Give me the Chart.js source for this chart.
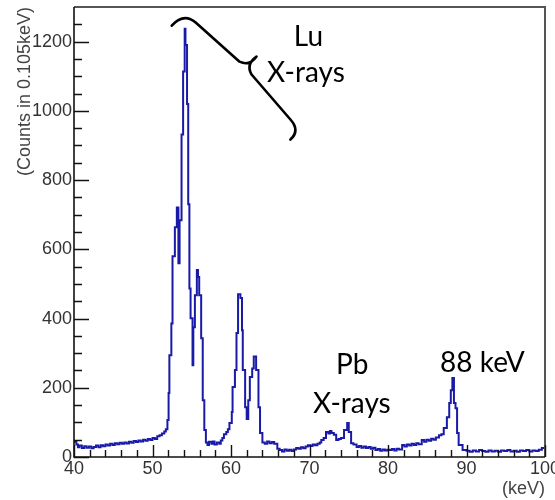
<!DOCTYPE html>
<html>
<head>
<meta charset="utf-8">
<script src="https://cdn.jsdelivr.net/npm/chart.js@4.4.1/dist/chart.umd.min.js"></script>
<style>
  html, body { margin: 0; padding: 0; background: #ffffff; }
  #wrap { width: 555px; height: 500px; }
</style>
</head>
<body>
<div id="wrap"><canvas id="c" width="555" height="500"></canvas></div>
<script>
// Bin left edges (keV) and counts per bin
const energies = [
  40.0, 40.3, 40.5, 40.7, 41.0, 41.3, 41.6, 41.9, 42.2, 42.5, 42.8, 43.1, 43.4, 43.7,
  44.0, 44.3, 44.6, 44.9, 45.2, 45.5, 45.8, 46.1, 46.4, 46.7, 47.0, 47.3, 47.6, 47.9,
  48.2, 48.5, 48.8, 49.1, 49.4, 49.7, 50.0, 50.3, 50.6, 50.9, 51.2, 51.5, 51.7, 51.9,
  52.05, 52.15, 52.4, 52.55, 52.85, 53.1, 53.3, 53.45, 53.7, 53.9, 54.1, 54.2, 54.4,
  54.55, 54.7, 54.85, 55.1, 55.2, 55.4, 55.65, 55.8, 55.95, 56.2, 56.4, 56.6, 56.8,
  57.0, 57.2, 57.5, 57.7, 57.9, 58.2, 58.5, 58.7, 58.9, 59.1, 59.4, 59.6, 59.8, 60.1,
  60.2, 60.5, 60.7, 60.9, 61.2, 61.4, 61.5, 61.8, 62.0, 62.2, 62.4, 62.7, 62.9, 63.2,
  63.5, 63.7, 64.0, 64.3, 64.6, 64.9, 65.2, 65.5, 65.9, 66.2, 66.5, 66.8, 67.1, 67.4,
  67.7, 68.0, 68.3, 68.6, 68.9, 69.2, 69.5, 69.8, 70.1, 70.4, 70.7, 71.0, 71.3, 71.5,
  71.8, 72.1, 72.4, 72.6, 72.8, 73.1, 73.4, 73.7, 74.0, 74.4, 74.8, 75.0, 75.3, 75.6,
  76.0, 76.3, 76.6, 76.9, 77.2, 77.5, 77.8, 78.1, 78.4, 78.7, 79.0, 79.3, 79.6, 79.9,
  80.2, 80.5, 80.8, 81.1, 81.4, 81.8, 82.1, 82.4, 82.7, 83.0, 83.3, 83.6, 83.9, 84.3,
  84.6, 84.9, 85.2, 85.5, 85.8, 86.1, 86.5, 86.8, 87.1, 87.5, 87.8, 88.0, 88.2, 88.4,
  88.6, 88.8, 89.0, 89.5, 90.0, 90.4, 90.8, 91.2, 91.6, 92.0, 92.4, 92.8, 93.2, 93.6,
  94.0, 94.4, 94.8, 95.2, 95.6, 96.0, 96.4, 96.8, 97.2, 97.6, 98.0, 98.4, 98.8, 99.2,
  99.6, 100.0
];
const counts = [
  44, 36, 28, 33, 26, 31, 27, 30, 25, 29, 33, 28, 34, 31,
  36, 33, 38, 35, 40, 37, 41, 38, 42, 39, 44, 41, 46, 43,
  48, 45, 50, 47, 52, 49, 55, 52, 60, 63, 68, 74, 80, 107,
  185, 294, 386, 580, 664, 721, 560, 684, 932, 1114, 1237, 1190, 1020,
  730, 487, 401, 265, 375, 467, 540, 520, 467, 343, 164, 78, 42,
  35, 44, 38, 45, 36, 42, 38, 48, 55, 66, 72, 80, 98, 130,
  202, 251, 358, 470, 459, 366, 251, 144, 110, 164, 231, 256, 290, 251,
  144, 69, 42, 38, 45, 40, 43, 38, 24, 20, 16, 22, 18, 21,
  17, 22, 26, 24, 28, 25, 30, 34, 32, 36, 34, 38, 42, 49,
  55, 72, 68, 75, 69, 64, 49, 52, 55, 78, 98, 72, 40, 36,
  29, 32, 27, 30, 26, 29, 24, 27, 20, 23, 18, 22, 19, 21,
  20, 23, 19, 24, 22, 35, 30, 36, 33, 38, 35, 40, 37, 49,
  44, 50, 47, 53, 50, 56, 63, 66, 84, 115, 156, 193, 228, 156,
  141, 69, 35, 20, 18, 15, 19, 16, 20, 17, 15, 19, 16, 18,
  15, 19, 17, 20, 16, 18, 15, 19, 17, 20, 16, 19, 17, 21,
  26, 26
];

// Axis ticks
const xMajorTicks = [40, 50, 60, 70, 80, 90, 100];
const xMinorStep = 2;
const yMajorTicks = [0, 200, 400, 600, 800, 1000, 1200];
const yMinorStep = 50;

// Axis titles
const yTitle = '(Counts in 0.105keV)';
const xTitle = '(keV)';

// Annotations (text at data coordinates: energy, counts at baseline)
const annoTexts = ['Lu', 'X-rays', 'Pb', 'X-rays', '88 keV'];
const annoE = [69.86, 69.54, 75.45, 75.39, 92.03];
const annoC = [1188, 1082, 239, 127, 245];

// Curly brace path in data coordinates
const bracePath = [
  ['M', 52.45, 1246],
  ['Q', 53.98, 1284, 55.50, 1255],
  ['L', 61.09, 1142],
  ['Q', 62.36, 1128, 63.25, 1157],
  ['Q', 61.86, 1134, 62.62, 1105],
  ['L', 67.57, 975],
  ['Q', 68.84, 943, 67.57, 917]
];

const points = energies.map((e, i) => ({ x: e, y: counts[i] }));

const axisFont = { family: '"Liberation Sans", Arial, Helvetica, sans-serif', size: 18 };
const axisColor = '#333333';

const rootPlugin = {
  id: 'rootStyle',
  afterDraw(chart) {
    const ctx = chart.ctx;
    const xs = chart.scales.x, ys = chart.scales.y;
    const a = chart.chartArea;
    ctx.save();
    // frame
    ctx.strokeStyle = '#555555';
    ctx.lineWidth = 2;
    ctx.beginPath();
    ctx.moveTo(a.left, a.top);
    ctx.lineTo(a.right, a.top);
    ctx.lineTo(a.right, a.bottom);
    ctx.stroke();
    ctx.strokeStyle = '#111111';
    ctx.lineWidth = 1.6;
    ctx.beginPath();
    ctx.moveTo(a.left, a.top);
    ctx.lineTo(a.left, a.bottom);
    ctx.lineTo(a.right, a.bottom);
    ctx.stroke();
    // ticks (inside)
    ctx.lineWidth = 1.4;
    ctx.beginPath();
    for (let v = 40; v <= 100 + 1e-9; v += xMinorStep) {
      const px = Math.round(xs.getPixelForValue(v)) + 0.5;
      const len = xMajorTicks.includes(Math.round(v)) ? 12 : 7;
      ctx.moveTo(px, a.bottom);
      ctx.lineTo(px, a.bottom - len);
    }
    for (let v = 0; v <= 1250 + 1e-9; v += yMinorStep) {
      const py = Math.round(ys.getPixelForValue(v)) + 0.5;
      const len = yMajorTicks.includes(v) ? 15 : 8;
      ctx.moveTo(a.left, py);
      ctx.lineTo(a.left + len, py);
    }
    ctx.stroke();
    // y title
    ctx.fillStyle = '#444444';
    ctx.font = '18px "Liberation Sans", Arial, sans-serif';
    ctx.save();
    ctx.translate(25, a.top);
    ctx.rotate(-Math.PI / 2);
    ctx.textAlign = 'right';
    ctx.textBaseline = 'middle';
    ctx.fillText(yTitle, 0, 0);
    ctx.restore();
    // x title
    ctx.textAlign = 'right';
    ctx.textBaseline = 'alphabetic';
    ctx.fillText(xTitle, a.right, 494);
    // annotations
    ctx.fillStyle = '#000000';
    ctx.font = '28px Lato, "Open Sans", sans-serif';
    ctx.textAlign = 'center';
    ctx.textBaseline = 'alphabetic';
    annoTexts.forEach((t, i) => {
      ctx.fillText(t, xs.getPixelForValue(annoE[i]), ys.getPixelForValue(annoC[i]));
    });
    // brace
    ctx.strokeStyle = '#000000';
    ctx.lineWidth = 2.6;
    ctx.lineCap = 'round';
    ctx.lineJoin = 'round';
    ctx.beginPath();
    const X = v => xs.getPixelForValue(v), Y = v => ys.getPixelForValue(v);
    bracePath.forEach(s => {
      if (s[0] === 'M') ctx.moveTo(X(s[1]), Y(s[2]));
      else if (s[0] === 'L') ctx.lineTo(X(s[1]), Y(s[2]));
      else ctx.quadraticCurveTo(X(s[1]), Y(s[2]), X(s[3]), Y(s[4]));
    });
    ctx.stroke();
    ctx.restore();
  }
};

new Chart(document.getElementById('c'), {
  type: 'line',
  data: {
    datasets: [{
      data: points,
      stepped: 'before',
      borderColor: '#1a1aa8',
      borderWidth: 2,
      pointRadius: 0,
      fill: false,
      tension: 0
    }]
  },
  options: {
    responsive: false,
    animation: false,
    devicePixelRatio: 1,
    layout: { padding: { left: 0, top: 7, right: 10, bottom: 0 } },
    plugins: { legend: { display: false }, tooltip: { enabled: false } },
    scales: {
      x: {
        type: 'linear',
        min: 40, max: 100,
        grid: { display: false, drawTicks: false },
        border: { display: false },
        ticks: { stepSize: 10, padding: 1, font: axisFont, color: axisColor, maxRotation: 0,
                 callback: v => String(v) },
        afterFit(s) { s.height = 43; s.paddingLeft = 0; s.paddingRight = 0; }
      },
      y: {
        type: 'linear',
        min: 0, max: 1300,
        grid: { display: false, drawTicks: false },
        border: { display: false },
        ticks: { stepSize: 200, includeBounds: false, padding: 2, font: axisFont, color: axisColor,
                 callback: v => String(v) },
        afterFit(s) { s.width = 74; s.paddingTop = 0; s.paddingBottom = 0; }
      }
    }
  },
  plugins: [rootPlugin]
});
</script>
</body>
</html>
